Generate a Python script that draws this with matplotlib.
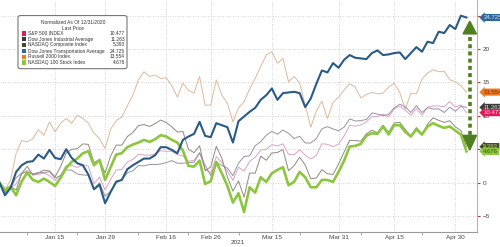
import numpy as np
import pandas as pd
import matplotlib
matplotlib.use("Agg")
import matplotlib.pyplot as plt
from matplotlib.patches import FancyBboxPatch, Polygon
from matplotlib.transforms import blended_transform_factory

plt.rcParams['font.family'] = ['Liberation Sans', 'DejaVu Sans']

# --- data: % change since 12/31/2020, one value per trading day (Dec 31 .. May 4) ---
holidays = ["2021-01-01", "2021-01-18", "2021-02-15", "2021-04-02"]
dates = pd.bdate_range("2020-12-31", "2021-05-04")
dates = dates[~dates.isin(pd.to_datetime(holidays))]

sp500 = [0, -1.48, -0.78, -0.21, 1.27, 1.83, 1.16, 1.20, 1.43, 1.05,
         0.32, 1.14, 2.55, 2.58, 2.27, 2.64, 2.49, -0.14, 0.83, -1.11,
         0.47, 1.87, 1.97, 3.08, 3.48, 4.25, 4.13, 4.10, 4.27, 4.76,
         4.70, 4.67, 4.20, 4.01, 3.21, 3.34, 4.51, 1.95, 1.47, 3.88,
         3.04, 1.69, 0.33, 2.29, 1.74, 3.18, 3.80, 4.88, 4.99, 5.67,
         5.50, 5.81, 4.24, 4.18, 4.91, 4.11, 3.54, 4.09, 5.82, 5.73,
         5.39, 5.77, 7.02, 8.57, 8.46, 8.62, 9.08, 9.92, 9.90, 10.26,
         9.81, 11.03, 11.43, 10.84, 10.09, 11.11, 10.09, 11.29, 11.49, 11.47,
         11.37, 12.12, 11.32, 11.62, 10.477]

dow = [0, -1.25, -0.70, 0.73, 1.42, 1.60, 1.31, 1.51, 1.48, 1.65,
       0.68, 1.06, 1.90, 1.86, 1.28, 1.15, 1.08, -0.99, -0.01, -2.04,
       -1.29, 0.26, 0.38, 1.47, 1.77, 2.55, 2.51, 2.71, 2.69, 2.78,
       2.99, 3.29, 2.90, 2.90, 2.99, 3.04, 4.43, 2.60, 1.06, 3.04,
       2.56, 2.17, 1.04, 2.91, 3.91, 4.01, 5.52, 6.14, 7.10, 7.67,
       7.25, 7.87, 7.37, 6.60, 6.94, 5.94, 5.93, 6.58, 8.06, 8.38,
       8.04, 7.76, 8.32, 9.54, 9.23, 9.28, 9.46, 10.44, 10.26, 10.03,
       10.21, 11.21, 11.74, 11.34, 10.50, 11.54, 10.49, 11.23, 11.03, 11.04,
       10.50, 11.29, 10.68, 11.46, 11.263]

nasdaq = [0, -1.47, -0.54, -1.14, 1.39, 2.43, 1.15, 1.43, 1.87, 1.74,
          0.86, 2.40, 4.41, 4.99, 5.08, 5.80, 5.72, 2.97, 3.48, 1.42,
          4.00, 5.62, 5.60, 6.90, 7.51, 8.53, 8.69, 8.41, 8.82, 9.37,
          8.99, 8.36, 7.58, 7.65, 5.00, 4.48, 5.51, 1.79, 2.36, 5.43,
          3.65, 0.85, -1.28, 0.25, -2.17, 1.44, 1.40, 3.96, 3.35, 4.43,
          4.52, 4.94, 1.77, 2.54, 3.80, 2.63, 0.57, 0.69, 1.94, 1.33,
          1.22, 2.78, 4.59, 6.34, 6.29, 6.21, 7.30, 7.85, 7.46, 8.60,
          7.52, 8.93, 9.03, 7.96, 6.97, 8.24, 7.22, 8.76, 9.70, 9.33,
          9.02, 9.27, 8.34, 7.81, 5.393]

transports = [0, -1.9, -0.8, 1.6, 2.6, 3.1, 3.2, 4.2, 3.6, 4.9,
              3.7, 3.5, 5.0, 3.7, 2.9, 2.6, 1.2, -1.0, -0.3, -3.1,
              -1.4, 0.1, 0.4, 2.0, 2.6, 3.1, 3.6, 3.6, 4.1, 5.3,
              5.3, 4.9, 4.4, 6.4, 6.9, 7.3, 9.1, 7.0, 6.8, 8.9,
              8.6, 8.3, 6.0, 9.2, 9.9, 10.6, 11.2, 12.4, 13.1, 14.1,
              12.4, 13.4, 13.5, 13.6, 13.4, 11.3, 12.6, 14.8, 16.8, 16.5,
              17.9, 17.2, 18.4, 19.1, 18.7, 18.6, 18.5, 19.4, 19.8, 19.1,
              19.2, 19.4, 19.5, 18.5, 19.4, 20.3, 19.6, 21.1, 20.9, 22.6,
              22.4, 23.6, 23.0, 25.0, 24.725]

russell = [0, -1.1, 0.4, 4.4, 6.3, 6.1, 6.6, 7.9, 7.1, 9.1,
           7.6, 8.9, 9.6, 8.9, 10.1, 9.6, 8.9, 7.4, 6.6, 5.1,
           8.0, 9.3, 9.8, 11.5, 13.1, 15.4, 16.6, 15.9, 16.1, 15.6,
           15.7, 14.5, 12.8, 14.9, 13.8, 13.4, 15.9, 11.6, 11.6, 15.4,
           13.1, 11.9, 9.1, 11.2, 12.1, 14.0, 15.6, 17.4, 19.1, 19.6,
           17.9, 18.6, 15.1, 15.9, 14.9, 11.6, 8.3, 10.7, 12.2, 9.6,
           12.0, 12.8, 13.9, 14.8, 14.3, 12.7, 13.2, 13.5, 13.3, 13.4,
           14.3, 14.9, 13.5, 11.0, 13.4, 13.3, 15.5, 16.4, 16.9, 16.6,
           16.7, 15.4, 15.1, 14.5, 13.554]

ndx = [0, -1.1, -0.6, -1.9, 0.2, 1.5, 0.4, 0.1, 0.6, 0.1,
       -0.5, 0.7, 2.2, 3.1, 3.6, 4.4, 4.7, 2.6, 3.4, 0.4,
       2.3, 4.2, 4.4, 5.3, 5.7, 6.0, 6.4, 6.1, 6.5, 7.1,
       6.9, 6.4, 6.0, 4.8, 2.5, 2.4, 3.3, -0.2, 0.2, 3.1,
       1.4, -0.5, -3.0, -1.6, -4.4, -0.7, -1.5, 0.8, 0.1, 1.4,
       1.9, 2.3, -0.4, 0.1, 1.6, 0.8, -0.7, -0.7, 0.4, 0.4,
       0.1, 1.6, 3.3, 5.4, 5.5, 5.8, 7.0, 7.4, 7.3, 8.4,
       7.2, 8.6, 8.6, 7.6, 6.9, 8.0, 7.2, 8.4, 8.9, 8.5,
       8.2, 8.4, 7.8, 7.2, 4.676]

names = ["S&P 500 INDEX", "Dow Jones Industrial Average", "NASDAQ Composite Index",
         "Dow Jones Transportation Average", "Russell 2000 Index", "NASDAQ 100 Stock Index"]
last_labels = ["10.477", "11.263", "5.393", "24.725", "13.554", "4.676"]
tick_dates = ["2021-01-15", "2021-01-29", "2021-02-16", "2021-02-26",
              "2021-03-15", "2021-03-31", "2021-04-15", "2021-04-30"]
tick_labels = ["Jan 15", "Jan 29", "Feb 16", "Feb 26", "Mar 15", "Mar 31", "Apr 15", "Apr 30"]
minor_dates = ["2021-01-08", "2021-01-22", "2021-02-08", "2021-02-22",
               "2021-03-05", "2021-03-22", "2021-04-07", "2021-04-22"]

series = [sp500, dow, nasdaq, transports, russell, ndx]
key_colors = ["#e3195a", "#3a3a3a", "#3d4f1c", "#2e679c", "#ee7a24", "#8cc63f"]
line_colors = ["#d9a3c8", "#9a90a4", "#8e8a7c", "#2a5a86", "#e0b898", "#8cc63f"]
line_widths = [0.7, 0.7, 0.7, 1.5, 0.7, 1.9]
box_text = ["#fbe0ea", "#dddddd", "#c9d6a0", "#cfe0f0", "#7a1e00", "#2f5a0c"]

x = np.arange(len(dates))
pos = {d: i for i, d in enumerate(dates.strftime("%Y-%m-%d"))}

fig = plt.figure(figsize=(5, 2.47), dpi=100)
ax = fig.add_axes([0.0, 0.0607, 0.954, 0.9393])

for i in [4, 0, 1, 2, 5, 3]:
    ax.plot(x, series[i], color=line_colors[i], lw=line_widths[i], zorder=3 + (i in (3, 5)))

ax.set_xlim(0.1, 85.9)
ax.set_ylim(-7.4, 27.35)

ax.set_xticks([pos[d] for d in tick_dates])
ax.set_xticklabels(tick_labels)
ax.set_xticks([pos[d] for d in minor_dates], minor=True)
ax.tick_params(axis='x', which='major', length=0, labelsize=4.6, colors='#444444', pad=2.5)
ax.tick_params(axis='x', which='minor', length=2, color='#999999')

ax.yaxis.tick_right()
ax.set_yticks([-5, 0, 5, 10, 15, 20, 25])
ax.tick_params(axis='y', length=2.5, width=0.8, color='#c0392b', labelsize=4.6,
               labelcolor='#444444', pad=1.5)

ax.grid(True, color='#c8c8c8', lw=0.6, ls=(0, (1, 2)))
ax.set_axisbelow(True)
for s in ['top', 'left']:
    ax.spines[s].set_visible(False)
ax.spines['right'].set_color('#cfa2c8')
ax.spines['right'].set_linewidth(0.8)
ax.spines['bottom'].set_color('#999999')
ax.spines['bottom'].set_linewidth(0.8)

fig.text(0.476, 0.008, "2021", fontsize=4.6, color='#444444', ha='center', va='bottom')

# last price tags on the right edge
trans = blended_transform_factory(ax.transAxes, ax.transData)
for i in [3, 4, 1, 0, 2, 5]:
    ax.annotate(last_labels[i], xy=(1.0, series[i][-1]), xycoords=trans,
                xytext=(4.5, 0), textcoords='offset points', fontsize=4.3,
                color=box_text[i], va='center', ha='left', annotation_clip=False,
                bbox=dict(boxstyle='larrow,pad=0.18', fc=key_colors[i], ec='none'),
                zorder=10)

# green dashed double arrow between top and bottom performers
arrow_col = '#4f7f1f'
ax_x = len(dates) - 0.4
top_tip = transports[-1] - 0.55
bot_tip = ndx[-1] + 0.2
head = 1.9
half_w = 1.2
ax.plot([ax_x, ax_x], [top_tip - head - 0.5, bot_tip + head + 0.4], color=arrow_col,
        lw=2.6, ls=(0, (1.1, 0.9)), solid_capstyle='butt', zorder=6)
ax.add_patch(Polygon([[ax_x - half_w, top_tip - head], [ax_x + half_w, top_tip - head], [ax_x, top_tip]],
                     closed=True, color=arrow_col, zorder=7, clip_on=False))
ax.add_patch(Polygon([[ax_x - half_w, bot_tip + head + 0.3], [ax_x + half_w, bot_tip + head + 0.3], [ax_x, bot_tip]],
                     closed=True, color=arrow_col, zorder=7, clip_on=False))

# legend box
leg_fs = 3.5
fig.patches.append(FancyBboxPatch((0.036, 0.722), 0.218, 0.215, transform=fig.transFigure,
                                  boxstyle='round,pad=0.0,rounding_size=0.006',
                                  fc='white', ec='#777777', lw=0.8, zorder=20))
fig.text(0.146, 0.909, "Normalized As Of 12/31/2020", fontsize=leg_fs, ha='center', va='center',
         color='#333333', zorder=21)
fig.text(0.146, 0.886, "Last Price", fontsize=leg_fs, ha='center', va='center',
         color='#333333', zorder=21)
row_y = [0.864, 0.841, 0.818, 0.793, 0.770, 0.747]
for i in range(len(names)):
    fig.patches.append(FancyBboxPatch((0.043, row_y[i] - 0.009), 0.009, 0.018,
                                      transform=fig.transFigure, boxstyle='square,pad=0',
                                      fc=key_colors[i], ec='none', zorder=21))
    fig.text(0.057, row_y[i], names[i], fontsize=leg_fs, ha='left', va='center',
             color='#333333', zorder=21)
    fig.text(0.250, row_y[i], last_labels[i], fontsize=leg_fs, ha='right', va='center',
             color='#333333', zorder=21)

fig.savefig("out.png", dpi=100)
